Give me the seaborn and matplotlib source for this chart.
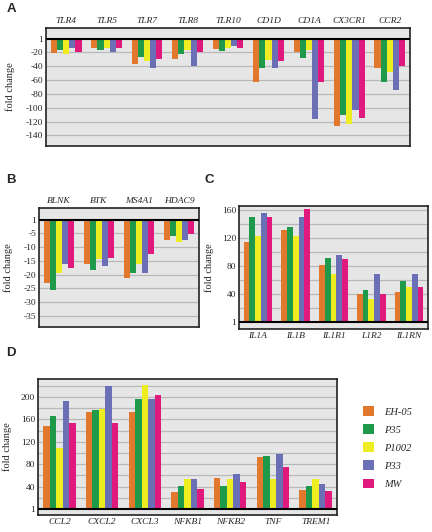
import numpy as np
import pandas as pd
import matplotlib
matplotlib.use("Agg")
import matplotlib.pyplot as plt
import seaborn as sns

# Strains and colours
strains = ["EH-05", "P35", "P1002", "P33", "MW"]
colors = ["#e2772e", "#1e9a4a", "#eded22", "#6b6fb5", "#e01a7d"]

# Panel A (down-regulated genes), rows in strain order
genes_a = ["TLR4", "TLR5", "TLR7", "TLR8", "TLR10", "CD1D", "CD1A", "CX3CR1", "CCR2"]
vals_a = [
    [-21, -14, -37, -29, -15, -63, -20, -126, -43],
    [-17, -17, -27, -22, -18, -42, -28, -110, -63],
    [-22, -14, -32, -17, -14, -31, -16, -123, -48],
    [-14, -20, -43, -40, -10, -43, -117, -103, -74],
    [-20, -14, -29, -20, -14, -32, -63, -115, -39],
]

# Panel B
genes_b = ["BLNK", "BTK", "MS4A1", "HDAC9"]
vals_b = [
    [-23.1, -16.3, -21.4, -7.3],
    [-25.5, -18.4, -19.5, -6.0],
    [-19.3, -14.5, -16.3, -8.1],
    [-16.3, -17.0, -19.6, -7.6],
    [-17.7, -14.0, -12.7, -5.3],
]

# Panel C
genes_c = ["IL1A", "IL1B", "IL1R1", "L1R2", "IL1RN"]
vals_c = [
    [115, 132, 82, 40, 42],
    [150, 136, 92, 46, 59],
    [123, 123, 69, 33, 50],
    [156, 150, 95, 68, 69],
    [150, 162, 90, 39, 50],
]

# Panel D
genes_d = ["CCL2", "CXCL2", "CXCL3", "NFKB1", "NFKB2", "TNF", "TREM1"]
vals_d = [
    [149, 173, 173, 31, 56, 92, 34],
    [166, 177, 196, 41, 41, 95, 41],
    [108, 179, 222, 53, 53, 53, 53],
    [193, 220, 196, 54, 63, 99, 45],
    [153, 154, 204, 36, 48, 75, 33],
]

sns.set_theme(style="white")
plt.rcParams["font.family"] = ["Liberation Serif", "DejaVu Serif"]

W, H = 432, 532
fig = plt.figure(figsize=(W / 100, H / 100), dpi=100)


def add_ax(x0, y0, x1, y1):
    return fig.add_axes([x0 / W, 1 - y1 / H, (x1 - x0) / W, (y1 - y0) / H])


def to_long(genes, vals):
    rows = []
    for s, v in zip(strains, vals):
        for g, x in zip(genes, v):
            rows.append({"gene": g, "strain": s, "fold": x})
    return pd.DataFrame(rows)


def draw(ax, genes, vals, ticks, ylim, grid_step, top=False, legend=False, width=0.76):
    df = to_long(genes, vals)
    sns.barplot(data=df, x="gene", y="fold", hue="strain", hue_order=strains,
                palette=colors, order=genes, width=width, ax=ax,
                legend=legend, linewidth=0, saturation=1, zorder=2)
    ax.set_facecolor("#e6e6e6")
    ax.set_ylim(*ylim)
    ax.set_yticks(ticks)
    ax.set_yticklabels(["1" if t == 0 else str(t) for t in ticks], fontsize=6.8)
    # horizontal grid lines
    lo, hi = ylim
    for g in np.arange(np.ceil(lo / grid_step) * grid_step, hi, grid_step):
        if g != 0:
            ax.axhline(g, color="#b8b8b8", lw=0.9, zorder=1)
    ax.axhline(0, color="black", lw=1.5, zorder=5)
    for sp in ax.spines.values():
        sp.set_color("#222222")
        sp.set_linewidth(1.2)
    ax.tick_params(axis="both", which="both", length=0, pad=2)
    ax.set_xlabel("")
    ax.set_xticks(range(len(genes)))
    ax.set_xticklabels(genes, fontsize=6.8, style="italic")
    if top:
        ax.xaxis.tick_top()
    ax.set_ylabel("fold change", fontsize=7.5)


axA = add_ax(46, 28, 410, 146)
draw(axA, genes_a, vals_a, [0, -20, -40, -60, -80, -100, -120, -140], (-155.5, 15.5), 20, top=True)
axA.yaxis.set_label_coords(-0.085, 0.5)

axB = add_ax(39, 208, 199, 327)
draw(axB, genes_b, vals_b, [0, -5, -10, -15, -20, -25, -30, -35], (-39.1, 4.2), 5, top=True)
axB.yaxis.set_label_coords(-0.16, 0.5)

axC = add_ax(239, 206, 428, 329)
draw(axC, genes_c, vals_c, [0, 40, 80, 120, 160], (-10.6, 166), 20)
axC.yaxis.set_label_coords(-0.13, 0.5)

axD = add_ax(38, 379, 337, 515)
draw(axD, genes_d, vals_d, [0, 40, 80, 120, 160, 200], (-10.7, 232), 20, legend=True)
axD.yaxis.set_label_coords(-0.086, 0.5)

handles, labels = axD.get_legend_handles_labels()
axD.get_legend().remove()
fig.legend(handles, labels, loc="upper left", bbox_to_anchor=(354 / W, 1 - 397 / H),
           frameon=False, handlelength=1.0, handleheight=1.0, labelspacing=0.75,
           handletextpad=1.0, prop={"style": "italic", "size": 7.5})

for letter, (x, y) in zip("ABCD", [(11, 9), (11, 180), (209, 180), (11, 353)]):
    fig.text(x / W, 1 - y / H, letter, fontsize=9.5, fontweight="bold",
             family="Liberation Sans", ha="center", va="center")

fig.savefig("out.png", dpi=100, facecolor="white")
